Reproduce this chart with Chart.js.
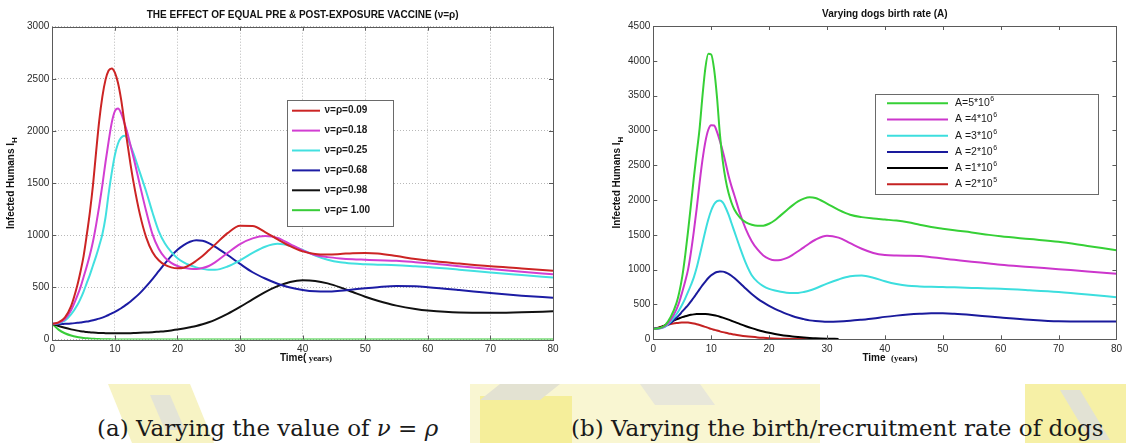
<!DOCTYPE html>
<html>
<head>
<meta charset="utf-8">
<script src="https://cdn.jsdelivr.net/npm/chart.js@4.4.0/dist/chart.umd.min.js"></script>
<style>
  html, body { margin: 0; padding: 0; background: #fff; }
  body { width: 1126px; height: 443px; overflow: hidden; position: relative; }
  #wm { position: absolute; left: 0; top: 0; }
  #boxA { position: absolute; left: 0; top: 0; }
  #boxB { position: absolute; left: 565px; top: 0; }
  .cap { position: absolute; top: 416px; line-height: 24px; font-family: 'DejaVu Serif', serif;
         font-size: 23px; color: #1a1a1a; white-space: nowrap; }
  .cap i { font-style: italic; }
</style>
</head>
<body>
<svg id="wm" width="1126" height="443">
  <polygon points="108,384 190,384 214,443 132,443" fill="#f7f3c4"/>
  <polygon points="150,395 170,395 185,430 165,430" fill="#e4e4d6"/>
  <rect x="470" y="384" width="350" height="59" fill="#f9f6d2"/>
  <rect x="480" y="396" width="92" height="47" fill="#f5ee9a"/>
  <polygon points="500,384 560,384 540,400 480,400" fill="#e3e2d2"/>
  <polygon points="640,384 700,384 715,405 655,405" fill="#e8e7da"/>
  <rect x="1025" y="384" width="101" height="59" fill="#f6f0a6"/>
  <polygon points="1060,390 1080,390 1110,440 1090,440" fill="#e2e2d4"/>
</svg>
<canvas id="boxA" width="565" height="380"></canvas>
<canvas id="boxB" width="561" height="380"></canvas>
<div class="cap" style="left:97px">(a) Varying the value of <i>ν</i> = <i>ρ</i></div>
<div class="cap" style="left:571px">(b) Varying the birth/recruitment rate of dogs</div>

<script>
// ---- chart (a): equal pre & post exposure vaccine ----
const tA = [0, 1, 2, 3, 4, 4.5, 5, 5.5, 6, 6.5, 7, 7.5, 8, 8.5, 9, 9.5, 10, 10.5, 11, 11.5, 12, 12.5, 13,
  14, 15, 16, 17, 18, 19, 20, 21, 22, 23, 24, 25, 26, 28, 30, 32, 34, 36, 38, 40, 42, 44, 46, 48, 50, 52,
  55, 58, 60, 65, 70, 75, 80];
const v009 = [150, 165, 210, 320, 520, 650, 800, 1000, 1220, 1480, 1800, 2100, 2330, 2490, 2580, 2600, 2560, 2460, 2300, 2090, 1880, 1680, 1500,
  1200, 980, 840, 760, 715, 692, 683, 688, 715, 755, 800, 855, 910, 1020, 1090, 1088, 1030, 960, 895, 845, 820, 815, 820, 828, 830, 825,
  800, 772, 757, 728, 702, 682, 660];
const v018 = [150, 160, 195, 280, 420, 500, 600, 700, 810, 940, 1100, 1280, 1480, 1700, 1900, 2080, 2190, 2215, 2170, 2080, 1980, 1860, 1740,
  1480, 1230, 1010, 870, 785, 735, 705, 688, 679, 676, 685, 705, 740, 830, 915, 970, 992, 975, 915, 855, 810, 790, 778, 770, 765, 760,
  755, 742, 732, 703, 676, 650, 625];
const v025 = [150, 155, 180, 240, 330, 390, 460, 540, 620, 710, 800, 900, 1010, 1170, 1400, 1600, 1770, 1880, 1935, 1955, 1930, 1860, 1780,
  1600, 1420, 1220, 1040, 920, 840, 780, 740, 712, 692, 678, 668, 668, 700, 760, 830, 890, 918, 900, 860, 805, 765, 740, 728, 722, 718,
  712, 702, 695, 670, 642, 618, 595];
const v068 = [150, 148, 150, 153, 160, 163, 168, 172, 178, 185, 192, 200, 210, 222, 235, 250, 265, 282, 300, 320, 342, 365, 390,
  445, 510, 580, 655, 730, 800, 860, 905, 937, 952, 948, 925, 890, 810, 725, 645, 585, 535, 498, 475, 462, 460, 468, 480, 492, 502,
  512, 510, 502, 475, 445, 420, 400];
const v098 = [150, 130, 112, 97, 85, 80, 76, 72, 69, 66, 64, 63, 62, 61, 60, 60, 60, 60, 60, 60, 60, 61, 62,
  64, 67, 70, 75, 80, 87, 95, 105, 117, 130, 146, 165, 188, 245, 312, 385, 455, 512, 552, 568, 562, 538, 500, 455, 410, 372,
  325, 292, 277, 258, 256, 262, 270];
const v100 = [150, 95, 60, 38, 24, 19, 15, 12, 9, 7, 5, 4, 3, 2, 2, 1, 1, 0, 0, 0, 0, 0, 0,
  0, 0, 0, 0, 0, 0, 0, 0, 0, 0, 0, 0, 0, 0, 0, 0, 0, 0, 0, 0, 0, 0, 0, 0, 0, 0,
  0, 0, 0, 0, 0, 0, 0];
const namesA = ['ν=ρ=0.09', 'ν=ρ=0.18', 'ν=ρ=0.25', 'ν=ρ=0.68', 'ν=ρ=0.98', 'ν=ρ= 1.00'];
const colorsA = ['#cc2424', '#d23ed2', '#42e0e0', '#1c1ca4', '#111111', '#38cc38'];
const seriesA = [v009, v018, v025, v068, v098, v100];

// ---- chart (b): dogs birth rate ----
const tB = [0, 1, 2, 3, 4, 4.5, 5, 5.5, 6, 6.5, 7, 7.5, 8, 8.5, 9, 9.5, 10, 10.5, 11, 11.5, 12, 12.5, 13, 13.5, 14,
  15, 16, 17, 18, 19, 20, 21, 22, 23, 24, 25, 26, 27, 28, 30, 32, 34, 36, 38, 40, 42, 44, 46, 48, 50, 52,
  55, 58, 60, 65, 70, 75, 80];
const a5e6 = [150, 160, 200, 320, 520, 680, 900, 1200, 1550, 1930, 2320, 2680, 3030, 3500, 3900, 4100, 4090, 3880, 3480, 2950, 2560, 2290, 2100, 1965, 1865,
  1745, 1680, 1645, 1630, 1632, 1660, 1710, 1780, 1850, 1920, 1980, 2020, 2040, 2030, 1950, 1860, 1790, 1755, 1735, 1720, 1705, 1680, 1645, 1612, 1588, 1565,
  1535, 1500, 1480, 1440, 1400, 1340, 1280];
const a4e6 = [150, 158, 190, 280, 430, 540, 680, 830, 1000, 1250, 1550, 1880, 2250, 2580, 2840, 3010, 3075, 3070, 2980, 2850, 2700, 2530, 2350, 2200, 2070,
  1800, 1580, 1410, 1290, 1205, 1155, 1134, 1140, 1165, 1210, 1265, 1320, 1380, 1430, 1488, 1460, 1380, 1300, 1240, 1210, 1202, 1200, 1198, 1180, 1160, 1142,
  1115, 1090, 1072, 1040, 1007, 975, 940];
const a3e6 = [150, 155, 180, 255, 360, 425, 500, 585, 680, 780, 890, 1030, 1200, 1380, 1560, 1720, 1850, 1940, 1985, 1995, 1965, 1890, 1790, 1670, 1550,
  1310, 1090, 920, 825, 765, 725, 700, 683, 670, 664, 666, 680, 700, 730, 800, 860, 905, 915, 885, 835, 795, 770, 760, 754, 750, 746,
  738, 730, 726, 705, 680, 645, 605];
const a2e6 = [150, 160, 185, 235, 310, 350, 400, 445, 490, 545, 600, 660, 720, 778, 830, 880, 920, 948, 966, 975, 972, 960, 940, 912, 880,
  805, 725, 650, 585, 530, 480, 438, 400, 365, 335, 310, 290, 272, 262, 252, 255, 266, 282, 300, 322, 340, 355, 366, 373, 373, 366,
  348, 326, 312, 280, 258, 255, 255];
const a1e6 = [150, 165, 200, 245, 285, 302, 318, 332, 343, 352, 358, 362, 364, 365, 364, 360, 354, 346, 336, 324, 311, 297, 282, 266, 250,
  218, 188, 160, 134, 112, 93, 77, 63, 51, 41, 33, 26, 20, 15, 9, 5, null, null, null, null, null, null, null, null, null, null,
  null, null, null, null, null, null, null];
const a2e5 = [150, 170, 198, 220, 234, 239, 241, 242, 240, 235, 227, 217, 205, 192, 178, 164, 150, 138, 126, 114, 103, 93, 84, 76, 68,
  55, 44, 35, 27, 21, 16, 12, 9, 7, 5, 4, 3, 2, 1, null, null, null, null, null, null, null, null, null, null, null, null,
  null, null, null, null, null, null, null];
const namesB = ['A=5*10', 'A =4*10', 'A =3*10', 'A =2*10', 'A =1*10', 'A =2*10'];
const powersB = ['6', '6', '6', '6', '6', '5'];
const colorsB = ['#36d036', '#cc36cc', '#3cdede', '#1a1a9c', '#000000', '#c42222'];
const seriesB = [a5e6, a4e6, a3e6, a2e6, a1e6, a2e5];

const SANS = "'Liberation Sans', Arial, sans-serif";

function makeSets(xs, series, names, colors) {
  return series.map((vals, i) => ({
    label: names[i],
    data: xs.map((t, j) => ({ x: t, y: vals[j] })),
    borderColor: colors[i],
    backgroundColor: colors[i],
    borderWidth: 2,
    pointRadius: 0,
    fill: false,
    spanGaps: false,
    cubicInterpolationMode: 'monotone'
  }));
}

// frame, inward ticks, titles and the boxed legend (matlab look)
function decor(o) {
  return {
    id: 'decor',
    afterDraw(chart) {
      const ctx = chart.ctx, ca = chart.chartArea;
      const xs = chart.scales.x, ys = chart.scales.y;
      ctx.save();
      ctx.strokeStyle = '#5a5a5a';
      ctx.lineWidth = 1;
      ctx.setLineDash([]);
      ctx.beginPath();
      xs.ticks.forEach(t => {
        const px = Math.round(xs.getPixelForValue(t.value)) + 0.5;
        ctx.moveTo(px, ca.bottom); ctx.lineTo(px, ca.bottom - 4);
        ctx.moveTo(px, ca.top); ctx.lineTo(px, ca.top + 4);
      });
      ys.ticks.forEach(t => {
        const py = Math.round(ys.getPixelForValue(t.value)) + 0.5;
        ctx.moveTo(ca.left, py); ctx.lineTo(ca.left + 4, py);
        ctx.moveTo(ca.right, py); ctx.lineTo(ca.right - 4, py);
      });
      ctx.stroke();
      ctx.strokeRect(Math.round(ca.left) + 0.5, Math.round(ca.top) + 0.5,
        Math.round(ca.right - ca.left), Math.round(ca.bottom - ca.top));

      // title
      ctx.fillStyle = '#111';
      ctx.font = 'bold 10px ' + SANS;
      ctx.textAlign = 'center';
      ctx.textBaseline = 'middle';
      ctx.fillText(o.title, (ca.left + ca.right) / 2, o.titleY);

      // y label with subscript
      ctx.save();
      ctx.translate(o.yLabelX, (ca.top + ca.bottom) / 2);
      ctx.rotate(-Math.PI / 2);
      ctx.font = 'bold 10px ' + SANS;
      const w1 = ctx.measureText('Infected Humans I').width;
      ctx.font = 'bold 8px ' + SANS;
      const w2 = ctx.measureText('H').width;
      ctx.textAlign = 'left';
      ctx.font = 'bold 10px ' + SANS;
      ctx.fillText('Infected Humans I', -(w1 + w2) / 2, 0);
      ctx.font = 'bold 8px ' + SANS;
      ctx.fillText('H', -(w1 + w2) / 2 + w1, 4);
      ctx.restore();

      // x label in two fonts
      ctx.textAlign = 'left';
      ctx.font = 'bold 10px ' + SANS;
      const p1 = ctx.measureText(o.xLabel[0]).width;
      ctx.font = "bold 9px 'Liberation Serif', serif";
      const p2 = ctx.measureText(o.xLabel[1]).width;
      const x0 = o.xLabelCx - (p1 + p2) / 2;
      ctx.font = 'bold 10px ' + SANS;
      ctx.fillText(o.xLabel[0], x0, o.xLabelY);
      ctx.font = "bold 9px 'Liberation Serif', serif";
      ctx.fillText(o.xLabel[1], x0 + p1, o.xLabelY + 0.5);

      // legend box
      const L = o.legend;
      ctx.fillStyle = '#fff';
      ctx.fillRect(L.x, L.y, L.w, L.h);
      ctx.strokeStyle = '#6a6a6a';
      ctx.strokeRect(L.x + 0.5, L.y + 0.5, L.w, L.h);
      chart.data.datasets.forEach((ds, i) => {
        const ry = L.row0 + i * L.gap;
        ctx.strokeStyle = ds.borderColor;
        ctx.lineWidth = 2;
        ctx.beginPath();
        ctx.moveTo(L.line0, ry); ctx.lineTo(L.line1, ry);
        ctx.stroke();
        ctx.fillStyle = '#1a1a1a';
        ctx.font = L.font;
        ctx.textAlign = 'left';
        ctx.fillText(ds.label, L.text, ry);
        if (L.powers) {
          const tw = ctx.measureText(ds.label).width;
          ctx.font = L.supFont;
          ctx.fillText(L.powers[i], L.text + tw + 0.5, ry - 4);
        }
      });
      ctx.restore();
    }
  };
}

function axisOpts(xMax, yMax, yW, xH, grid) {
  const tickFont = { family: SANS, size: 10 };
  const g = grid
    ? { display: true, color: '#b8b8b8', lineWidth: 1, drawTicks: false, tickLength: 0 }
    : { display: false, drawTicks: false, tickLength: 0 };
  return {
    x: {
      type: 'linear', min: 0, max: xMax,
      ticks: { stepSize: 10, font: tickFont, color: '#2a2a2a', padding: 4, maxRotation: 0, callback: v => String(v) },
      grid: g,
      border: { display: false, dash: [1, 2] },
      afterFit: s => { s.height = xH; }
    },
    y: {
      type: 'linear', min: 0, max: yMax,
      ticks: { stepSize: 500, font: tickFont, color: '#2a2a2a', padding: 3, callback: v => String(v) },
      grid: g,
      border: { display: false, dash: [1, 2] },
      afterFit: s => { s.width = yW; }
    }
  };
}

new Chart(document.getElementById('boxA'), {
  type: 'line',
  data: { datasets: makeSets(tA, seriesA, namesA, colorsA) },
  options: {
    responsive: false,
    animation: false,
    layout: { padding: { left: 0, right: 12, top: 26.7, bottom: 0 } },
    plugins: { legend: { display: false }, title: { display: false }, tooltip: { enabled: false } },
    scales: axisOpts(80, 3000, 52.3, 40.5, true)
  },
  plugins: [decor({
    title: 'THE EFFECT OF EQUAL PRE & POST-EXPOSURE VACCINE (ν=ρ)', titleY: 15,
    yLabelX: 11, xLabel: ['Time(', ' years)'], xLabelCx: 306, xLabelY: 358,
    legend: { x: 287, y: 100, w: 106, h: 126, line0: 292, line1: 320, text: 324.5, row0: 110.7, gap: 19.9,
              font: 'bold 10px ' + SANS }
  })]
});

new Chart(document.getElementById('boxB'), {
  type: 'line',
  data: { datasets: makeSets(tB, seriesB, namesB, colorsB) },
  options: {
    responsive: false,
    animation: false,
    layout: { padding: { left: 0, right: 6, top: 26, bottom: 0 } },
    plugins: { legend: { display: false }, title: { display: false }, tooltip: { enabled: false } },
    scales: axisOpts(80, 4500, 88.3, 40.7, false)
  },
  plugins: [decor({
    title: 'Varying dogs birth rate (A)', titleY: 14,
    yLabelX: 52, xLabel: ['Time  ', '(years)'], xLabelCx: 325, xLabelY: 358,
    legend: { x: 310, y: 94, w: 223, h: 100, line0: 322, line1: 383, text: 390, row0: 103.3, gap: 16.2,
              font: '10.5px ' + SANS, supFont: '7px ' + SANS, powers: powersB }
  })]
});
</script>
</body>
</html>
